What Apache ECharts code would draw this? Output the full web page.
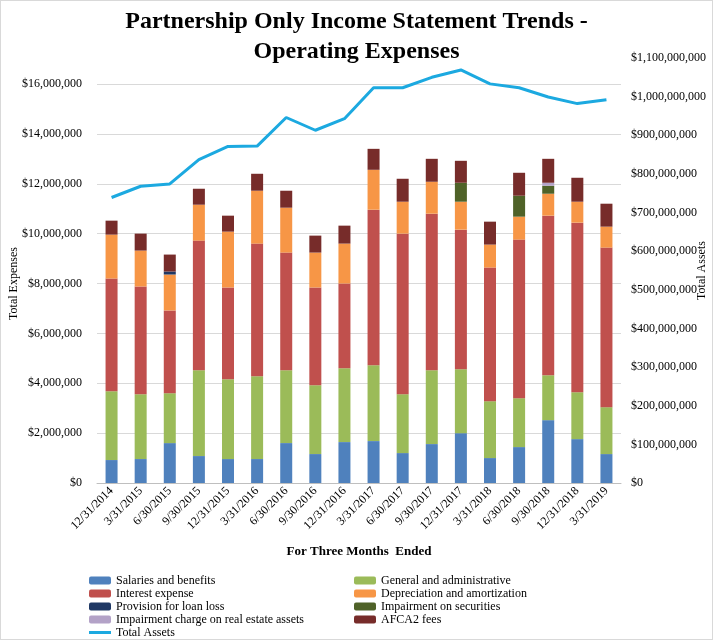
<!DOCTYPE html>
<html>
<head>
<meta charset="utf-8">
<script src="https://cdn.jsdelivr.net/npm/echarts@6/dist/echarts.min.js"></script>
<style>
html,body{margin:0;padding:0;background:#fff;}
#c{width:713px;height:640px;box-sizing:border-box;border:1px solid #d9d9d9;}
</style>
</head>
<body>
<div id="c"></div>
<script>
const categories = ['12/31/2014','3/31/2015','6/30/2015','9/30/2015','12/31/2015','3/31/2016','6/30/2016','9/30/2016','12/31/2016','3/31/2017','6/30/2017','9/30/2017','12/31/2017','3/31/2018','6/30/2018','9/30/2018','12/31/2018','3/31/2019'];
const salaries = [920000,960000,1600000,1080000,960000,960000,1600000,1160000,1640000,1680000,1200000,1560000,2000000,1000000,1440000,2520000,1760000,1160000];
const generalAdmin = [2760000,2600000,2000000,3440000,3200000,3320000,2920000,2760000,2960000,3040000,2360000,2960000,2560000,2280000,1960000,1800000,1880000,1880000];
const interest = [4520000,4320000,3320000,5200000,3680000,5320000,4720000,3920000,3400000,6240000,6440000,6280000,5600000,5360000,6360000,6400000,6800000,6400000];
const depreciation = [1760000,1440000,1440000,1440000,2240000,2120000,1800000,1400000,1600000,1600000,1280000,1280000,1120000,920000,920000,880000,840000,840000];
const provision = [0,0,120000,0,0,0,0,0,0,0,0,0,0,0,0,0,0,0];
const impairmentSec = [0,0,0,0,0,0,0,0,0,0,0,0,760000,0,840000,320000,0,0];
const impairmentRE = [0,0,0,0,0,0,0,0,0,0,0,0,0,0,0,120000,0,0];
const afca2 = [560000,680000,680000,640000,640000,680000,680000,680000,720000,840000,920000,920000,880000,920000,920000,960000,960000,920000];
const totalAssets = [739000000,768000000,774000000,837000000,871000000,872000000,946000000,913000000,943000000,1023000000,1023000000,1050000000,1069000000,1033000000,1023000000,999000000,982000000,992000000];
const leftTicks = {min:0, max:16000000, interval:2000000};
const rightTicks = {min:0, max:1100000000, interval:100000000};

const serif = 'Liberation Serif';
function money(v){ return '$' + String(Math.round(v)).replace(/\B(?=(\d{3})+(?!\d))/g, ','); }

const barDefs = [
  ['Salaries and benefits', salaries, '#4F81BD'],
  ['General and administrative', generalAdmin, '#9BBB59'],
  ['Interest expense', interest, '#C0504D'],
  ['Depreciation and amortization', depreciation, '#F79646'],
  ['Provision for loan loss', provision, '#1F3864'],
  ['Impairment on securities', impairmentSec, '#4F6228'],
  ['Impairment charge on real estate assets', impairmentRE, '#B3A2C7'],
  ['AFCA2 fees', afca2, '#772C2A']
];

const series = barDefs.map(d => ({
  name: d[0], type: 'bar', stack: 'exp', data: d[1], barWidth: 12,
  xAxisIndex: 0, yAxisIndex: 0,
  itemStyle: {color: d[2]}
}));
series.push({
  name: 'Total Assets', type: 'line', data: totalAssets, xAxisIndex: 1, yAxisIndex: 1,
  symbol: 'none', lineStyle: {color: '#1CA9E0', width: 3}, itemStyle: {color: '#1CA9E0'}, z: 5
});

const legendText = {fontFamily: serif, fontSize: 12, color: '#000', lineHeight: 13};
const chart = echarts.init(document.getElementById('c'), null, {renderer: 'canvas'});
chart.setOption({
  animation: false,
  backgroundColor: '#fff',
  title: {
    text: 'Partnership Only Income Statement Trends -\nOperating Expenses',
    left: 'center', top: 1,
    textStyle: {fontFamily: serif, fontWeight: 'bold', fontSize: 24, lineHeight: 30, color: '#000'}
  },
  grid: [
    {left: 96, right: 91, top: 83, bottom: 156, outerBoundsMode: 'none', containLabel: false},
    {left: 96, right: 91, top: 57, bottom: 156, outerBoundsMode: 'none', containLabel: false}
  ],
  legend: [
    {
      orient: 'vertical', left: 88, top: 573, height: 90, padding: 0, itemGap: 0, itemWidth: 22, itemHeight: 8,
      textStyle: legendText,
      data: ['Salaries and benefits','Interest expense','Provision for loan loss','Impairment charge on real estate assets',
        {name: 'Total Assets', icon: 'path://M0,0H22V3H0Z'}]
    },
    {
      orient: 'vertical', left: 353, top: 573, height: 90, padding: 0, itemGap: 0, itemWidth: 22, itemHeight: 8,
      textStyle: legendText,
      data: ['General and administrative','Depreciation and amortization','Impairment on securities','AFCA2 fees']
    }
  ],
  xAxis: [
    {
      type: 'category', gridIndex: 0, data: categories, boundaryGap: true,
      name: 'For Three Months  Ended', nameLocation: 'middle', nameGap: 62,
      nameTextStyle: {fontFamily: serif, fontWeight: 'bold', fontSize: 13, color: '#000'},
      axisLine: {lineStyle: {color: '#bfbfbf'}}, axisTick: {show: false},
      axisLabel: {rotate: 45, interval: 0, fontFamily: serif, fontSize: 12, color: '#000', margin: 6}
    },
    {type: 'category', gridIndex: 1, data: categories, boundaryGap: true, show: false}
  ],
  yAxis: [
    {
      type: 'value', gridIndex: 0, min: leftTicks.min, max: leftTicks.max, interval: leftTicks.interval,
      name: 'Total Expenses', nameLocation: 'middle', nameGap: 77, nameRotate: 90, nameMoveOverlap: false,
      nameTextStyle: {fontFamily: serif, fontSize: 12, color: '#000'},
      axisLine: {show: false}, axisTick: {show: false},
      splitLine: {lineStyle: {color: '#d9d9d9'}},
      axisLabel: {formatter: money, fontFamily: serif, fontSize: 12, color: '#000', margin: 15}
    },
    {
      type: 'value', gridIndex: 1, position: 'right', min: rightTicks.min, max: rightTicks.max, interval: rightTicks.interval,
      name: 'Total Assets', nameLocation: 'middle', nameGap: 75, nameRotate: 90, nameMoveOverlap: false,
      nameTextStyle: {fontFamily: serif, fontSize: 12, color: '#000'},
      axisLine: {show: false}, axisTick: {show: false}, splitLine: {show: false},
      axisLabel: {formatter: money, fontFamily: serif, fontSize: 12, color: '#000', margin: 10}
    }
  ],
  series: series
});
</script>
</body>
</html>
